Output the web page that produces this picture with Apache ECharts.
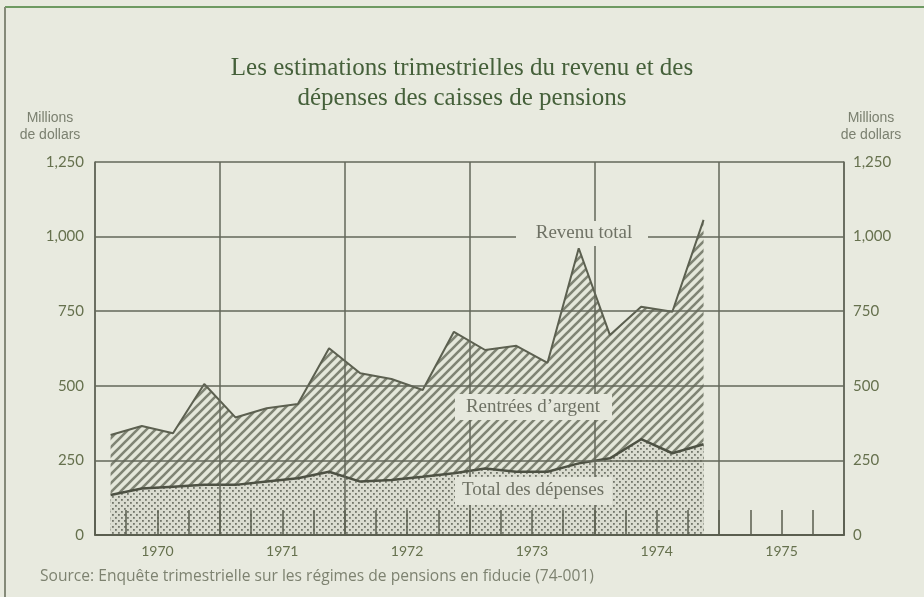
<!DOCTYPE html>
<html><head><meta charset="utf-8">
<script src="https://cdn.jsdelivr.net/npm/echarts@6/dist/echarts.min.js"></script>
<style>html,body{margin:0;padding:0;background:#e8eadf}#c{width:924px;height:597px}</style>
</head><body><div id="c"></div>
<script>
const years = ['1970','1971','1972','1973','1974','1975'];
const quarters = [];
years.forEach(y => { for (let q = 1; q <= 4; q++) quarters.push(y + ' T' + q); });
const revenuTotal = [335, 365, 341, 506, 394, 425, 439, 626, 542, 523, 486, 681, 620, 634, 577, 961, 670, 765, 748, 1056];
const totalDepenses = [134, 156, 162, 168, 168, 179, 190, 212, 179, 184, 195, 207, 223, 212, 212, 240, 257, 321, 274, 304];
const yTickLabels = ['0', '250', '500', '750', '1,000', '1,250'];

function hatchPattern() {
  const c = document.createElement('canvas'); c.width = 9; c.height = 9;
  const g = c.getContext('2d');
  g.fillStyle = '#e4e7da'; g.fillRect(0, 0, 9, 9);
  g.strokeStyle = '#7f8474'; g.lineWidth = 2.6; g.beginPath();
  g.moveTo(-1, 10); g.lineTo(10, -1);
  g.moveTo(-2, 2); g.lineTo(2, -2);
  g.moveTo(7, 11); g.lineTo(11, 7);
  g.stroke();
  return c;
}
function dotPattern() {
  const c = document.createElement('canvas'); c.width = 6; c.height = 6;
  const g = c.getContext('2d');
  g.fillStyle = '#dadcd0'; g.fillRect(0, 0, 6, 6);
  g.fillStyle = '#72766a';
  g.fillRect(1, 1, 1.8, 1.8); g.fillRect(4, 4, 1.8, 1.8);
  return c;
}

const lineCol = '#63675a';
const labelCol = '#66714e';
const chart = echarts.init(document.getElementById('c'), null, {renderer: 'canvas'});
chart.setOption({
  backgroundColor: '#e8eadf',
  animation: false,
  title: {
    text: 'Les estimations trimestrielles du revenu et des\ndépenses des caisses de pensions',
    left: 'center', top: 48,
    textStyle: {fontFamily: 'Liberation Serif', fontSize: 25, fontWeight: 'normal', color: '#45603a', lineHeight: 30}
  },
  grid: {left: 95, right: 80, top: 162, bottom: 62},
  xAxis: [
    {type: 'category', data: quarters, boundaryGap: true, position: 'bottom', z: 3,
     axisLine: {show: true, lineStyle: {color: '#5a5e4f', width: 2}},
     axisTick: {show: true, interval: 0, inside: true, length: 25, lineStyle: {color: '#5a5e4f', width: 1.5}},
     axisLabel: {show: false}, splitLine: {show: false}},
    {type: 'category', data: years, boundaryGap: true, position: 'bottom', z: 3,
     axisLine: {show: false}, axisTick: {show: false},
     axisLabel: {show: true, interval: 0, color: labelCol, fontFamily: 'Lato', fontSize: 14, margin: 9},
     splitLine: {show: true, interval: 0, lineStyle: {color: lineCol, width: 1.5}}}
  ],
  yAxis: [
    {type: 'value', min: 0, max: 1250, interval: 250, position: 'left', z: 3,
     axisLine: {show: true, lineStyle: {color: lineCol, width: 1.5}}, axisTick: {show: false},
     axisLabel: {formatter: v => yTickLabels[Math.round(v / 250)], color: labelCol, fontFamily: 'Lato', fontSize: 15, margin: 11},
     splitLine: {show: true, lineStyle: {color: lineCol, width: 1.5}}},
    {type: 'value', min: 0, max: 1250, interval: 250, position: 'right', z: 3,
     axisLine: {show: true, lineStyle: {color: lineCol, width: 1.5}}, axisTick: {show: false},
     axisLabel: {formatter: v => yTickLabels[Math.round(v / 250)], color: labelCol, fontFamily: 'Lato', fontSize: 15, margin: 9},
     splitLine: {show: false}}
  ],
  series: [
    {name: 'Revenu total', type: 'line', xAxisIndex: 0, yAxisIndex: 0, data: revenuTotal, symbol: 'none', z: 1,
     lineStyle: {color: '#5c6050', width: 2},
     areaStyle: {color: {image: hatchPattern(), repeat: 'repeat'}, opacity: 1}},
    {name: 'Total des dépenses', type: 'line', xAxisIndex: 0, yAxisIndex: 0, data: totalDepenses, symbol: 'none', z: 2,
     lineStyle: {color: '#4d5143', width: 2.5},
     areaStyle: {color: {image: dotPattern(), repeat: 'repeat'}, opacity: 1}}
  ],
  graphic: [
    {type: 'line', z: 10, shape: {x1: 5, y1: 7, x2: 924, y2: 7}, style: {stroke: '#6e9a62', lineWidth: 2}},
    {type: 'line', z: 10, shape: {x1: 5, y1: 7, x2: 5, y2: 597}, style: {stroke: '#858a79', lineWidth: 2}},
    {type: 'text', z: 10, style: {text: 'Millions\nde dollars', x: 50, y: 110, align: 'center', fill: '#7b8070', font: '14px "Liberation Sans"', lineHeight: 17}},
    {type: 'text', z: 10, style: {text: 'Millions\nde dollars', x: 871, y: 110, align: 'center', fill: '#7b8070', font: '14px "Liberation Sans"', lineHeight: 17}},
    {type: 'rect', z: 10, shape: {x: 516, y: 221, width: 132, height: 25}, style: {fill: '#e8eadf'}},
    {type: 'text', z: 11, style: {text: 'Revenu total', x: 584, y: 233, align: 'center', verticalAlign: 'middle', fill: '#6f7265', font: '19px "Liberation Serif"'}},
    {type: 'rect', z: 10, shape: {x: 455, y: 394, width: 157, height: 26}, style: {fill: '#e6e8dd'}},
    {type: 'text', z: 11, style: {text: 'Rentrées d\u2019argent', x: 533, y: 407, align: 'center', verticalAlign: 'middle', fill: '#6f7265', font: '19px "Liberation Serif"'}},
    {type: 'rect', z: 10, shape: {x: 455, y: 477, width: 157, height: 28}, style: {fill: '#e3e5da'}},
    {type: 'text', z: 11, style: {text: 'Total des dépenses', x: 533, y: 490, align: 'center', verticalAlign: 'middle', fill: '#6f7265', font: '19px "Liberation Serif"'}},
    {type: 'text', z: 10, style: {text: 'Source: Enquête trimestrielle sur les régimes de pensions en fiducie (74-001)', x: 40, y: 577, verticalAlign: 'middle', fill: '#7d8270', font: '15.6px "Open Sans"'}}
  ]
});
</script></body></html>
